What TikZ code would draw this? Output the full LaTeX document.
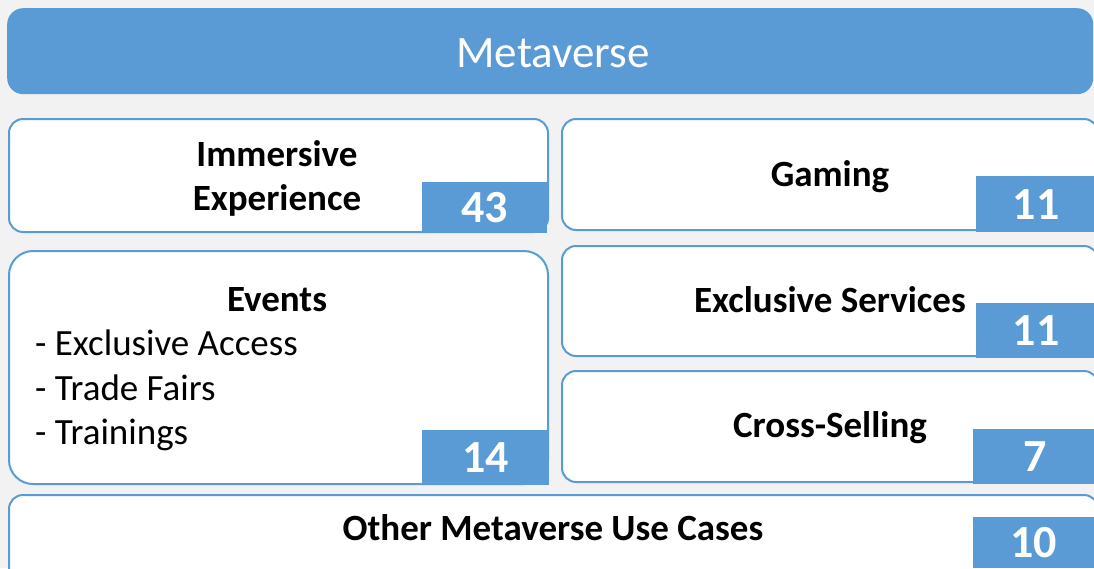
\documentclass[tikz,border=0pt]{standalone}
\usepackage{fontspec}
\setmainfont{Carlito}
\definecolor{mvblue}{HTML}{5B9BD5}
\definecolor{mvgray}{HTML}{F2F2F2}
\begin{document}
\begin{tikzpicture}[
            x=1pt, y=-1pt,
            tile/.style={draw=mvblue, line width=2pt, fill=white, rounded corners=14pt,
                anchor=north west, inner sep=0pt},
            badge/.style={fill=mvblue, anchor=north west, inner sep=0pt, text=white,
                font=\fontsize{46}{50}\selectfont\bfseries},
            tiletext/.style={anchor=base, inner sep=0pt, font=\fontsize{37}{44}\selectfont\bfseries},
            listtext/.style={anchor=base west, inner sep=0pt, font=\fontsize{37}{44}\selectfont}
            ]
            \useasboundingbox (0,0) rectangle (1094,568);
            \clip (0,0) rectangle (1094,568);
            \fill[mvgray] (0,0) rectangle (1094,568);

            % title bar
            \node[fill=mvblue, rounded corners=16pt, anchor=north west, inner sep=0pt,
                minimum width=1086pt, minimum height=86pt] (title) at (7,8) {};
            \node[anchor=base, inner sep=0pt, text=white, font=\fontsize{45}{50}\selectfont]
                (titletext) at (553,67) {Metaverse};

            % tiles
            \node[tile, minimum width=539pt, minimum height=113pt] (immersive) at (8,118) {};
            \node[tile, minimum width=536pt, minimum height=111pt] (gaming) at (561,118) {};
            \node[tile, rounded corners=24pt, minimum width=539pt, minimum height=233pt] (events) at (8,250) {};
            \node[tile, minimum width=536pt, minimum height=110pt] (services) at (561,245) {};
            \node[tile, minimum width=536pt, minimum height=111pt] (selling) at (561,370) {};
            \node[tile, minimum width=1089pt, minimum height=90pt] (other) at (8,494) {};

            % counts
            \node[badge, minimum width=125pt, minimum height=51pt] (n43) at (422,182) {43};
            \node[badge, minimum width=120pt, minimum height=56pt] (n11a) at (976,176) {11};
            \node[badge, minimum width=127pt, minimum height=55pt] (n14) at (422,430) {14};
            \node[badge, minimum width=120pt, minimum height=55pt] (n11b) at (976,303) {11};
            \node[badge, minimum width=123pt, minimum height=55pt] (n7) at (973,429) {7};
            \node[badge, minimum width=121pt, minimum height=51pt] (n10) at (973,517) {10};

            % labels
            \node[tiletext] (immersive1) at (277,166) {Immersive};
            \node[tiletext] (immersive2) at (277,210) {Experience};
            \node[tiletext] (gamingtext) at (830,186) {Gaming};
            \node[tiletext] (eventstext) at (277,311) {Events};
            \node[tiletext] (servicestext) at (830,312) {Exclusive Services};
            \node[tiletext] (sellingtext) at (830,437) {Cross-Selling};
            \node[tiletext] (othertext) at (553,540) {Other Metaverse Use Cases};

            \foreach \t [count=\i] in {Exclusive Access, Trade Fairs, Trainings}{
                \node[listtext] (event\i) at (35,311+44.5*\i) {- \t};
            }
        \end{tikzpicture}
\end{document}
